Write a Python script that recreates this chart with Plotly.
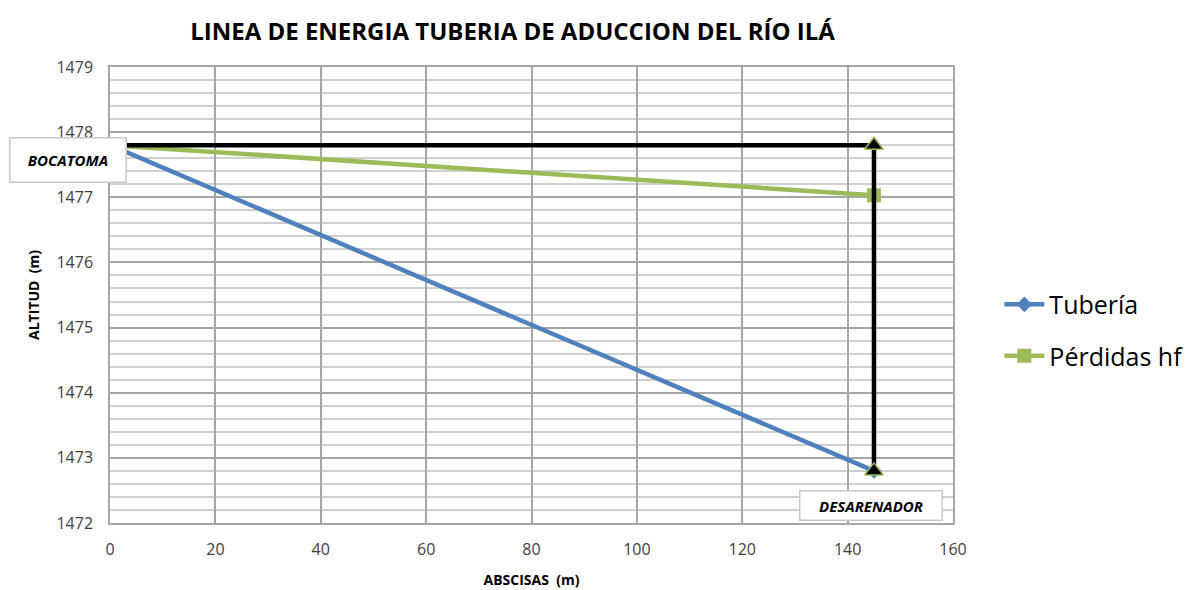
import plotly.graph_objects as go

# Abscisas (m) and altitudes (m) of the adduction pipe
x_tuberia = [0, 145]
y_tuberia = [1477.8, 1472.8]

# Energy line after head losses
x_perdidas = [0, 145]
y_perdidas = [1477.8, 1477.03]

# Static reference line (horizontal from intake, then drop to the desander)
x_estatica = [0, 145, 145]
y_estatica = [1477.8, 1477.8, 1472.8]

x_ticks = [0, 20, 40, 60, 80, 100, 120, 140, 160]
y_ticks = [1472, 1473, 1474, 1475, 1476, 1477, 1478, 1479]

fig = go.Figure()

fig.add_trace(go.Scatter(
    x=x_tuberia, y=y_tuberia, name="Tubería", mode="lines+markers",
    legendgroup="a",
    line=dict(color="#4f81bd", width=4.5),
    marker=dict(symbol="diamond", size=12, color="#4f81bd"),
    cliponaxis=False,
))
fig.add_trace(go.Scatter(
    x=x_perdidas, y=y_perdidas, name="Pérdidas hf", mode="lines+markers",
    legendgroup="b",
    line=dict(color="#9bbb59", width=4.5),
    marker=dict(symbol="square", size=14, color="#9bbb59"),
    cliponaxis=False,
))
fig.add_trace(go.Scatter(
    x=x_estatica, y=y_estatica, mode="lines", showlegend=False,
    line=dict(color="#000000", width=4.5),
    cliponaxis=False,
))
fig.add_trace(go.Scatter(
    x=x_estatica[1:], y=y_estatica[1:], mode="markers", showlegend=False,
    marker=dict(symbol="triangle-up", size=16, color="#000000",
                line=dict(color="#9bbb59", width=1.5)),
    cliponaxis=False,
))

label_font = dict(family="Open Sans, DejaVu Sans", size=15, color="#000000")
fig.add_annotation(
    x=-0.05, y=0.796, xref="paper", yref="paper", showarrow=False,
    text="<b><i>BOCATOMA</i></b>", font=label_font,
    bgcolor="#ffffff", bordercolor="#c8c8c8", borderwidth=1.5,
    width=113, height=41, xanchor="center", yanchor="middle",
)
fig.add_annotation(
    x=0.903, y=0.039, xref="paper", yref="paper", showarrow=False,
    text="<b><i>DESARENADOR</i></b>", font=label_font,
    bgcolor="#ffffff", bordercolor="#c8c8c8", borderwidth=1.5,
    width=139, height=26, xanchor="center", yanchor="middle",
)

fig.update_layout(
    width=1192, height=590,
    margin=dict(l=110, r=239, t=67, b=67, autoexpand=False),
    paper_bgcolor="#ffffff", plot_bgcolor="#ffffff",
    font=dict(family="Open Sans, DejaVu Sans", color="#404040"),
    title=dict(
        text="<b>LINEA DE ENERGIA TUBERIA DE ADUCCION DEL RÍO ILÁ</b>",
        x=0.43, xanchor="center", y=0.947, yanchor="middle",
        font=dict(family="Open Sans, DejaVu Sans", size=24, color="#000000"),
    ),
    xaxis=dict(
        range=[0, 160], tickvals=x_ticks, ticks="", automargin=False,
        showgrid=True, gridcolor="#a6a6a6", gridwidth=1.5,
        showline=True, linecolor="#a6a6a6", linewidth=1.5, mirror=True,
        zeroline=False, tickfont=dict(size=16, color="#404040"),
        ticklabelstandoff=11,
        title=dict(text="<b>ABSCISAS  (m)</b>", standoff=16,
                   font=dict(size=14, color="#000000")),
    ),
    yaxis=dict(
        range=[1472, 1479], tickvals=y_ticks, ticks="", automargin=False,
        showgrid=True, gridcolor="#a6a6a6", gridwidth=1.5,
        minor=dict(dtick=0.2, showgrid=True, gridcolor="#d0d0d0", gridwidth=1.5),
        showline=True, linecolor="#a6a6a6", linewidth=1.5, mirror=True,
        zeroline=False, tickfont=dict(size=16, color="#404040"),
        ticklabelstandoff=12,
        title=dict(text="<b>ALTITUD  (m)</b>", standoff=14,
                   font=dict(size=14, color="#000000")),
    ),
    legend=dict(
        x=1.055, xanchor="left", y=0.423, yanchor="middle",
        xref="paper", font=dict(size=25, color="#000000"),
        itemwidth=40, tracegroupgap=16, bgcolor="rgba(0,0,0,0)",
    ),
)

fig.write_html("out.html")
